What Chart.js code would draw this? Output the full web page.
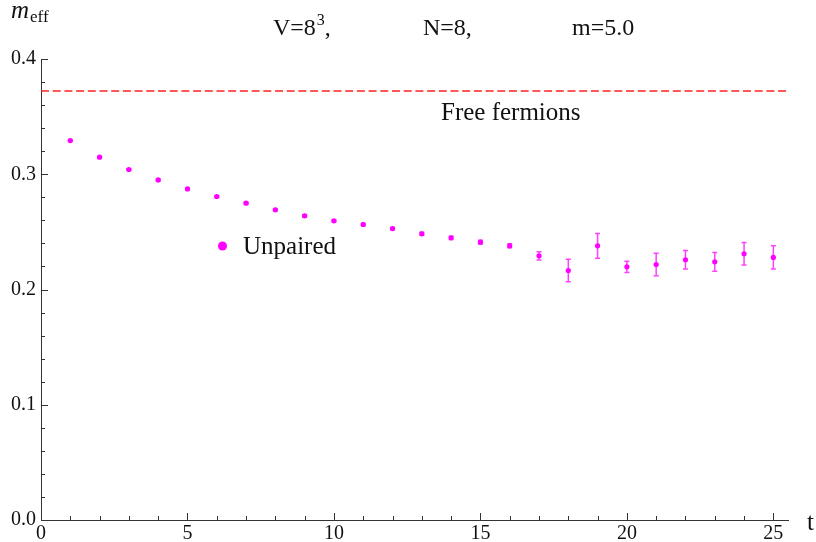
<!DOCTYPE html>
<html>
<head>
<meta charset="utf-8">
<script src="https://cdn.jsdelivr.net/npm/chart.js@4.4.1/dist/chart.umd.min.js"></script>
<style>
  body { margin: 0; background: #fff; }
  canvas { display: block; }
</style>
</head>
<body>
<canvas id="chart" width="816" height="542"></canvas>
<script>
// data
const tVals = [1, 2, 3, 4, 5, 6, 7, 8, 9, 10, 11, 12, 13, 14, 15, 16, 17, 18, 19, 20, 21, 22, 23, 24, 25];
const mEff = [0.3292, 0.3148, 0.3041, 0.2951, 0.2873, 0.2807, 0.2749, 0.2691, 0.2639, 0.2596, 0.2564, 0.2529,
  0.2483, 0.2448, 0.2411, 0.2379, 0.2292, 0.2165, 0.2379, 0.2197, 0.2217, 0.2258, 0.2240, 0.2310, 0.2278];
const mErr = [0.0006, 0.0006, 0.0006, 0.0007, 0.0007, 0.0007, 0.0008, 0.0008, 0.0009, 0.0009, 0.001, 0.001,
  0.0013, 0.0015, 0.0017, 0.0017, 0.0035, 0.0097, 0.0107, 0.0049, 0.0098, 0.0081, 0.0082, 0.0098, 0.0101];
const freeT = [0, 25.5];
const freeM = [0.3723, 0.3723];
const xTicks = [0, 5, 10, 15, 20, 25];
const yTicks = [0, 0.1, 0.2, 0.3, 0.4];
const xMinor = [1, 2, 3, 4, 6, 7, 8, 9, 11, 12, 13, 14, 16, 17, 18, 19, 21, 22, 23, 24];
const yMinor = [0.02, 0.04, 0.06, 0.08, 0.12, 0.14, 0.16, 0.18, 0.22, 0.24, 0.26, 0.28, 0.32, 0.34, 0.36, 0.38];

const SERIF = '"Liberation Serif", "DejaVu Serif", serif';
const MAGENTA = '#ff00ff';

// inward tick marks (Mathematica style)
const tickMarks = {
  id: 'tickMarks',
  afterDraw(chart) {
    const ctx = chart.ctx;
    const x = chart.scales.x, y = chart.scales.y;
    const x0 = x.getPixelForValue(0), y0 = y.getPixelForValue(0);
    ctx.save();
    ctx.strokeStyle = '#333';
    ctx.lineWidth = 1;
    ctx.beginPath();
    xTicks.forEach(v => { const p = Math.round(x.getPixelForValue(v)) + 0.5; ctx.moveTo(p, y0); ctx.lineTo(p, y0 - 7); });
    xMinor.forEach(v => { const p = Math.round(x.getPixelForValue(v)) + 0.5; ctx.moveTo(p, y0); ctx.lineTo(p, y0 - 4); });
    yTicks.forEach(v => { const p = Math.round(y.getPixelForValue(v)) + 0.5; ctx.moveTo(x0, p); ctx.lineTo(x0 + 7, p); });
    yMinor.forEach(v => { const p = Math.round(y.getPixelForValue(v)) + 0.5; ctx.moveTo(x0, p); ctx.lineTo(x0 + 4, p); });
    ctx.stroke();
    ctx.restore();
  }
};

// error bars
const errorBars = {
  id: 'errorBars',
  beforeDatasetsDraw(chart) {
    const ctx = chart.ctx;
    const x = chart.scales.x, y = chart.scales.y;
    ctx.save();
    ctx.strokeStyle = 'rgba(255,0,255,0.75)';
    ctx.lineWidth = 1.5;
    tVals.forEach((t, i) => {
      const px = x.getPixelForValue(t);
      const top = y.getPixelForValue(mEff[i] + mErr[i]);
      const bot = y.getPixelForValue(mEff[i] - mErr[i]);
      ctx.beginPath();
      ctx.moveTo(px, top); ctx.lineTo(px, bot);
      ctx.moveTo(px - 2.5, top); ctx.lineTo(px + 2.5, top);
      ctx.moveTo(px - 2.5, bot); ctx.lineTo(px + 2.5, bot);
      ctx.stroke();
    });
    ctx.restore();
  }
};

// labels: title, axis names, legend, free fermion line
const labels = {
  id: 'labels',
  afterDraw(chart) {
    const ctx = chart.ctx;
    ctx.save();
    ctx.fillStyle = '#111';
    ctx.textBaseline = 'alphabetic';
    ctx.textAlign = 'left';

    ctx.font = '24px ' + SERIF;
    ctx.fillText('V=8', 273, 35);
    let w = ctx.measureText('V=8').width;
    ctx.font = '16px ' + SERIF;
    ctx.fillText('3', 273 + w + 1, 25);
    let w2 = ctx.measureText('3').width;
    ctx.font = '24px ' + SERIF;
    ctx.fillText(',', 273 + w + w2 + 1, 35);
    ctx.fillText('N=8,', 423, 35);
    ctx.fillText('m=5.0', 572, 35);

    ctx.font = 'italic 25px ' + SERIF;
    ctx.fillText('m', 11, 18);
    ctx.font = '17px ' + SERIF;
    ctx.fillText('eff', 30, 22);

    ctx.font = '25px ' + SERIF;
    ctx.fillText('t', 807, 530);
    ctx.fillText('Free fermions', 441, 120);
    ctx.fillText('Unpaired', 243, 254);

    ctx.fillStyle = MAGENTA;
    ctx.beginPath();
    ctx.arc(222.5, 246, 4.5, 0, Math.PI * 2);
    ctx.fill();
    ctx.restore();
  }
};

const ctx = document.getElementById('chart').getContext('2d');
new Chart(ctx, {
  type: 'scatter',
  data: {
    datasets: [{
      type: 'line',
      data: freeT.map((t, i) => ({ x: t, y: freeM[i] })),
      borderColor: '#ff2222',
      borderWidth: 1.5,
      borderDash: [8, 3.7],
      pointRadius: 0,
      fill: false
    }, {
      data: tVals.map((t, i) => ({ x: t, y: mEff[i] })),
      backgroundColor: MAGENTA,
      borderWidth: 0,
      pointRadius: 2.6
    }]
  },
  options: {
    responsive: false,
    animation: false,
    devicePixelRatio: 1,
    layout: { padding: { top: 59, right: 28, left: 0, bottom: 0 } },
    plugins: { legend: { display: false }, tooltip: { enabled: false } },
    scales: {
      x: {
        type: 'linear',
        min: 0, max: 25.5,
        afterBuildTicks: s => { s.ticks = xTicks.map(v => ({ value: v })); },
        afterFit: s => { s.height = 22; },
        grid: { display: false, drawTicks: false },
        border: { display: true, color: '#333', width: 1 },
        ticks: { padding: 2, color: '#111', font: { family: SERIF, size: 20 }, maxRotation: 0 }
      },
      y: {
        type: 'linear',
        min: 0, max: 0.4,
        afterBuildTicks: s => { s.ticks = yTicks.map(v => ({ value: v })); },
        afterFit: s => { s.width = 41; },
        grid: { display: false, drawTicks: false },
        border: { display: true, color: '#333', width: 1 },
        ticks: { padding: 5, color: '#111', font: { family: SERIF, size: 20 },
          callback: v => v.toFixed(1) }
      }
    }
  },
  plugins: [errorBars, tickMarks, labels]
});
</script>
</body>
</html>
